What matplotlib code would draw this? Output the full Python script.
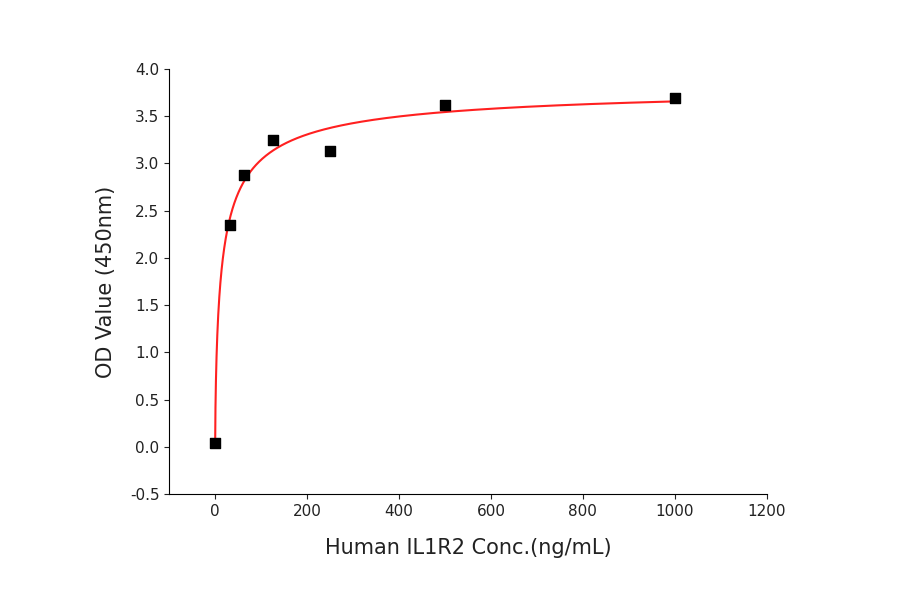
import numpy as np
import matplotlib
matplotlib.use("Agg")
import matplotlib.pyplot as plt

conc = np.array([0, 31.25, 62.5, 125, 250, 500, 1000])
od = np.array([0.04, 2.35, 2.88, 3.25, 3.13, 3.62, 3.69])

# Hill fit by grid search
best = None
for n in np.linspace(0.5, 1.2, 36):
    for K in np.linspace(5, 80, 151):
        f = conc**n / (K**n + conc**n)
        A = np.vstack([f, np.ones_like(f)]).T
        coef, *_ = np.linalg.lstsq(A, od, rcond=None)
        r = np.sum((A @ coef - od) ** 2)
        if best is None or r < best[0]:
            best = (r, n, K, coef)
_, n, K, (B, c) = best
xf = np.linspace(0, 1000, 3000)
yf = c + B * xf**n / (K**n + xf**n)

fig = plt.figure(figsize=(9, 5.94), dpi=100)
ax = fig.add_axes([0.188, 0.168, 0.664, 0.716])
ax.plot(xf, yf, color="#ff2020", lw=1.5)
ax.scatter(conc, od, marker="s", s=45, color="black", zorder=3)
ax.set_xlim(-100, 1200)
ax.set_ylim(-0.5, 4.0)
ax.set_xticks(np.arange(0, 1201, 200))
ax.set_yticks(np.arange(-0.5, 4.01, 0.5))
ax.set_yticklabels([f"{v:.1f}" for v in np.arange(-0.5, 4.01, 0.5)])
ax.spines["top"].set_visible(False)
ax.spines["right"].set_visible(False)
ax.tick_params(direction="out", labelsize=11, colors="#222222")
ax.set_xlabel("Human IL1R2 Conc.(ng/mL)", fontsize=15, labelpad=14, color="#222222")
ax.set_ylabel("OD Value (450nm)", fontsize=15, labelpad=10, color="#222222")
fig.savefig("out.png", dpi=100)
